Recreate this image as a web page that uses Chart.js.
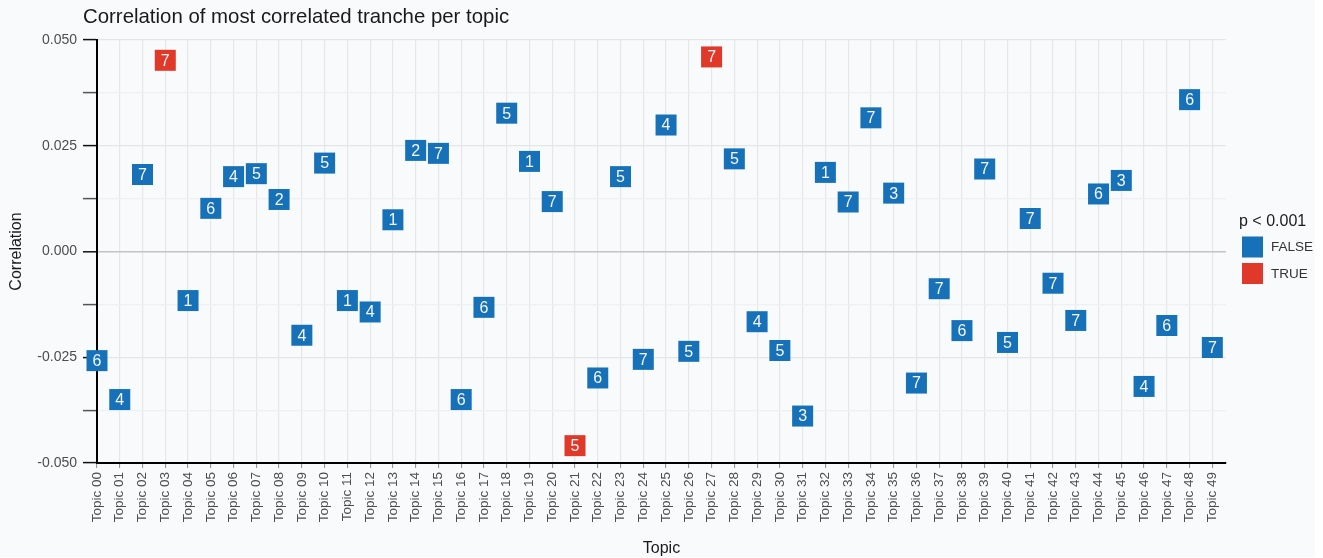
<!DOCTYPE html>
<html>
<head>
<meta charset="utf-8">
<script src="https://cdn.jsdelivr.net/npm/chart.js@4/dist/chart.umd.min.js"></script>
<style>
  html, body { margin: 0; padding: 0; background: #ffffff; }
  canvas { display: block; }
</style>
</head>
<body>
<canvas id="c" width="1323" height="558"></canvas>
<script>
const topics = ['Topic 00','Topic 01','Topic 02','Topic 03','Topic 04','Topic 05','Topic 06','Topic 07','Topic 08','Topic 09',
  'Topic 10','Topic 11','Topic 12','Topic 13','Topic 14','Topic 15','Topic 16','Topic 17','Topic 18','Topic 19',
  'Topic 20','Topic 21','Topic 22','Topic 23','Topic 24','Topic 25','Topic 26','Topic 27','Topic 28','Topic 29',
  'Topic 30','Topic 31','Topic 32','Topic 33','Topic 34','Topic 35','Topic 36','Topic 37','Topic 38','Topic 39',
  'Topic 40','Topic 41','Topic 42','Topic 43','Topic 44','Topic 45','Topic 46','Topic 47','Topic 48','Topic 49'];

const correlations = [-0.0258, -0.0350, 0.0182, 0.0452, -0.0116, 0.0102, 0.0177, 0.0184, 0.0123, -0.0198,
  0.0209, -0.0116, -0.0143, 0.0075, 0.0239, 0.0232, -0.0350, -0.0132, 0.0327, 0.0213,
  0.0118, -0.0459, -0.0299, 0.0177, -0.0255, 0.0299, -0.0236, 0.0460, 0.0219, -0.0166,
  -0.0234, -0.0389, 0.0187, 0.0117, 0.0316, 0.0138, -0.0311, -0.0088, -0.0187, 0.0195,
  -0.0215, 0.0078, -0.0075, -0.0163, 0.0136, 0.0168, -0.0319, -0.0175, 0.0359, -0.0227];

const tranches = [6, 4, 7, 7, 1, 6, 4, 5, 2, 4,
  5, 1, 4, 1, 2, 7, 6, 6, 5, 1,
  7, 5, 6, 5, 7, 4, 5, 7, 5, 4,
  5, 3, 1, 7, 7, 3, 7, 7, 6, 7,
  5, 7, 7, 7, 6, 3, 4, 6, 6, 7];

const significant = [false, false, false, true, false, false, false, false, false, false,
  false, false, false, false, false, false, false, false, false, false,
  false, true, false, false, false, false, false, true, false, false,
  false, false, false, false, false, false, false, false, false, false,
  false, false, false, false, false, false, false, false, false, false];

const yTickValues = [-0.050, -0.025, 0.000, 0.025, 0.050];
const legendGroups = ['FALSE', 'TRUE'];

const FONT = "'Liberation Sans', Arial, Helvetica, sans-serif";
const BLUE = '#1771b8';
const RED = '#e0392a';

function pointsFor(flag) {
  const out = [];
  for (let i = 0; i < topics.length; i++) {
    if (significant[i] === flag) out.push({ x: i, y: correlations[i], t: String(tranches[i]) });
  }
  return out;
}

function isMajor(v) {
  return yTickValues.some(m => Math.abs(m - v) < 1e-7);
}

const bgPlugin = {
  id: 'bg',
  beforeDraw(chart) {
    const ctx = chart.ctx;
    ctx.save();
    ctx.fillStyle = '#ffffff';
    ctx.fillRect(0, 0, chart.width, chart.height);
    ctx.fillStyle = '#f9fafc';
    ctx.fillRect(0, 0, 1315, 557);
    ctx.restore();
  }
};

const labelPlugin = {
  id: 'boxLabels',
  afterDatasetsDraw(chart) {
    const ctx = chart.ctx;
    ctx.save();
    ctx.font = '16px ' + FONT;
    ctx.fillStyle = '#f4f6fa';
    ctx.textAlign = 'center';
    ctx.textBaseline = 'middle';
    chart.data.datasets.forEach((ds, di) => {
      const meta = chart.getDatasetMeta(di);
      meta.data.forEach((el, i) => {
        ctx.fillText(ds.data[i].t, el.x, el.y + 1);
      });
    });
    ctx.restore();
  }
};

const titlePlugin = {
  id: 'titleText',
  afterDraw(chart) {
    const ctx = chart.ctx;
    ctx.save();
    ctx.font = '20.4px ' + FONT;
    ctx.fillStyle = '#1a1a1a';
    ctx.textAlign = 'left';
    ctx.textBaseline = 'middle';
    ctx.fillText('Correlation of most correlated tranche per topic', 83, 17);
    ctx.restore();
  }
};

const legendPlugin = {
  id: 'customLegend',
  afterDraw(chart) {
    const ctx = chart.ctx;
    const ca = chart.chartArea;
    const x0 = ca.right + 16;
    const yMid = (ca.top + ca.bottom) / 2;
    ctx.save();
    ctx.font = '16px ' + FONT;
    ctx.fillStyle = '#1a1a1a';
    ctx.textAlign = 'left';
    ctx.textBaseline = 'middle';
    ctx.fillText('p < 0.001', x0 - 3, yMid - 30);
    chart.data.datasets.forEach((ds, i) => {
      const y = yMid - 15 + i * 26.5;
      ctx.fillStyle = ds.backgroundColor;
      ctx.fillRect(x0, y, 21, 21);
      ctx.fillStyle = '#333333';
      ctx.font = '13.5px ' + FONT;
      ctx.fillText(legendGroups[i], x0 + 29, y + 11);
    });
    ctx.restore();
  }
};

new Chart(document.getElementById('c'), {
  type: 'scatter',
  data: {
    datasets: [
      { label: legendGroups[0], data: pointsFor(false), backgroundColor: BLUE, borderWidth: 0,
        pointStyle: 'rect', pointRadius: 14.85, clip: false },
      { label: legendGroups[1], data: pointsFor(true), backgroundColor: RED, borderWidth: 0,
        pointStyle: 'rect', pointRadius: 14.85, clip: false }
    ]
  },
  options: {
    responsive: false,
    animation: false,
    events: [],
    layout: { padding: { top: 40, right: 97, bottom: 0, left: 0 } },
    plugins: {
      legend: { display: false },
      title: { display: false },
      tooltip: { enabled: false }
    },
    scales: {
      x: {
        type: 'linear',
        min: 0,
        max: 49.6,
        afterFit(s) { s.height = 95; },
        afterBuildTicks(s) {
          s.ticks = topics.map((_, i) => ({ value: i }));
        },
        ticks: {
          stepSize: 1,
          autoSkip: false,
          maxRotation: 90,
          minRotation: 90,
          padding: 4,
          color: '#4d4d4d',
          font: { family: FONT, size: 13.5 },
          callback: (v) => topics[Math.round(v)]
        },
        grid: {
          color: '#e6e7e9',
          lineWidth: 1.2,
          tickColor: '#8c8c8c',
          tickLength: 5,
          tickWidth: 1
        },
        border: { color: '#000000', width: 2 },
        title: {
          display: true,
          text: 'Topic',
          color: '#1a1a1a',
          font: { family: FONT, size: 16 },
          padding: { top: 4, bottom: 0 }
        }
      },
      y: {
        min: -0.05,
        max: 0.05,
        afterFit(s) { s.width = 97; },
        ticks: {
          stepSize: 0.0125,
          padding: 6,
          color: '#4d4d4d',
          font: { family: FONT, size: 14 },
          callback: (v) => isMajor(v) ? v.toFixed(3) : ''
        },
        grid: {
          color: (c) => {
            const v = c.tick ? c.tick.value : 1;
            if (Math.abs(v) < 1e-7) return '#c2c4c6';
            return isMajor(v) ? '#e4e5e7' : '#eff0f2';
          },
          lineWidth: (c) => {
            const v = c.tick ? c.tick.value : 1;
            return Math.abs(v) < 1e-7 ? 1.6 : 1.2;
          },
          tickColor: (c) => {
            const v = c.tick ? c.tick.value : 0;
            return isMajor(v) ? '#111111' : '#555555';
          },
          tickLength: 14,
          tickWidth: 1.5
        },
        border: { color: '#000000', width: 2 },
        title: {
          display: true,
          text: 'Correlation',
          color: '#1a1a1a',
          font: { family: FONT, size: 16 },
          padding: { top: 7, bottom: 0 }
        }
      }
    }
  },
  plugins: [bgPlugin, labelPlugin, titlePlugin, legendPlugin]
});
</script>
</body>
</html>
